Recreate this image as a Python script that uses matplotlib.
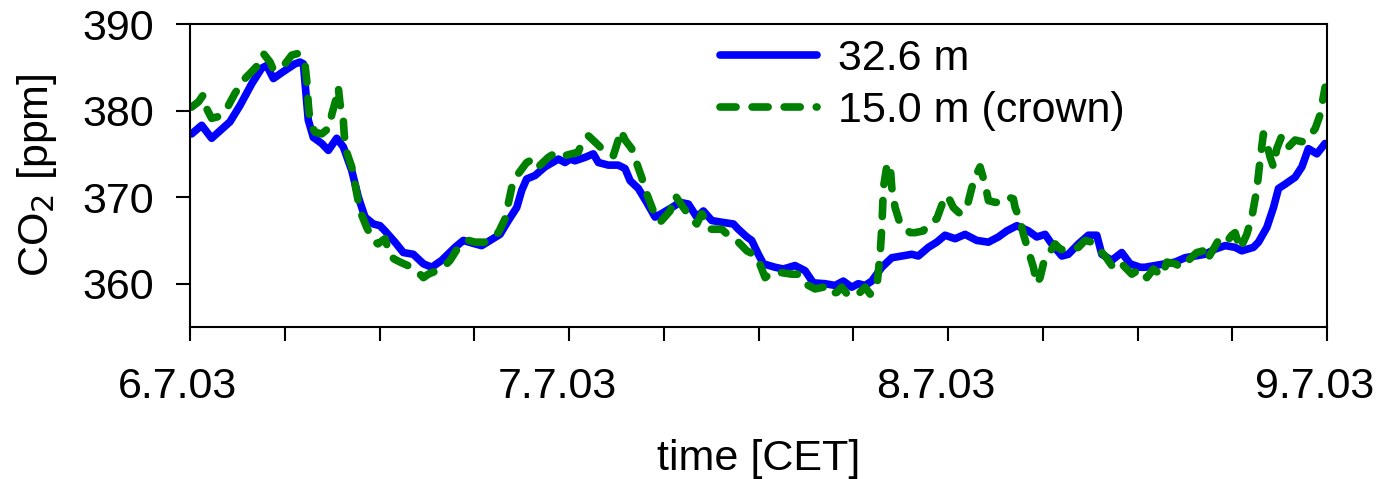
import matplotlib
matplotlib.use("Agg")
import matplotlib.pyplot as plt
from matplotlib.ticker import FixedLocator
from matplotlib.transforms import ScaledTranslation

plt.rcParams['font.family'] = ['Liberation Sans', 'DejaVu Sans']

# hours since 6.7.03 00:00 CET
t_top = [0.1, 0.74, 1.37, 2.53, 3.17, 3.91, 4.54, 4.86, 5.28, 5.91, 6.65, 6.97, 7.18, 7.49, 7.81,
         8.34, 8.76, 9.29, 9.71, 10.24, 10.66, 11.08, 11.61, 12.03, 12.35, 12.98, 13.51, 14.14,
         14.78, 15.31, 15.94, 16.78, 17.31, 18.05, 18.47, 19.0, 19.63, 20.16, 20.69, 21.01, 21.32,
         21.85, 22.48, 23.33, 23.75, 24.07, 24.38, 25.02, 25.54, 25.86, 26.49, 27.12, 27.55, 27.87,
         28.39, 28.92, 29.45, 29.87, 30.51, 31.03, 31.56, 32.09, 32.51, 33.04, 33.67, 34.41, 34.72,
         35.26, 35.57, 35.99, 36.31, 37.05, 37.57, 38.31, 38.95, 39.47, 40.22, 40.85, 41.37, 41.9,
         42.32, 42.75, 43.17, 43.81, 44.44, 45.07, 45.71, 46.12, 46.76, 47.29, 47.81, 48.45, 49.08,
         49.82, 50.56, 51.19, 51.72, 52.36, 53.09, 53.62, 54.15, 54.57, 55.21, 55.62, 56.26, 56.89,
         57.42, 57.74, 58.37, 59.0, 59.53, 60.16, 60.48, 61.11, 61.75, 62.38, 63.01, 63.65, 64.28,
         64.92, 65.55, 66.18, 66.6, 67.34, 67.66, 68.19, 68.61, 68.93, 69.35, 69.98, 70.41, 70.82,
         71.36, 71.88]
co2_top = [377.3, 378.3, 376.8, 378.7, 380.6, 383.1, 384.9, 385.2, 383.7, 384.5, 385.4, 385.6, 385.4,
           378.9, 376.9, 376.2, 375.4, 376.8, 375.8, 373.1, 370.0, 367.7, 366.9, 366.7, 366.1, 364.8,
           363.6, 363.4, 362.3, 361.9, 362.7, 364.2, 365.0, 364.6, 364.4, 365.0, 365.7, 367.3, 368.8,
           370.8, 372.1, 372.5, 373.5, 374.4, 374.0, 374.4, 374.2, 374.6, 375.0, 374.0, 373.7, 373.7,
           373.3, 371.9, 371.0, 369.4, 367.7, 368.1, 368.8, 369.4, 369.2, 367.7, 368.4, 367.3, 367.1,
           366.9, 366.3, 365.4, 365.0, 363.4, 362.3, 361.9, 361.7, 362.1, 361.5, 360.1, 360.0, 359.8,
           360.3, 359.6, 360.0, 359.8, 360.3, 361.9, 363.0, 363.2, 363.4, 363.2, 364.2, 364.8, 365.6,
           365.2, 365.7, 365.0, 364.8, 365.4, 366.1, 366.7, 366.1, 365.4, 365.7, 364.6, 363.2, 363.4,
           364.6, 365.6, 365.6, 363.4, 362.7, 363.6, 362.3, 361.9, 361.9, 362.1, 362.3, 362.5, 363.0,
           363.2, 363.4, 364.0, 364.4, 364.2, 363.8, 364.2, 364.8, 366.5, 368.8, 371.0, 371.5, 372.3,
           373.5, 375.6, 375.0, 376.2]

t_crown = [0.1, 0.53, 0.84, 1.06, 1.37, 1.79, 2.32, 2.85, 3.48, 3.91, 4.22, 4.64, 5.07, 5.28, 6.02,
           6.44, 6.86, 7.28, 7.39, 7.49, 7.6, 7.92, 8.34, 8.87, 8.97, 9.29, 9.39, 9.5, 9.71, 9.77,
           9.92, 10.24, 10.45, 10.77, 11.19, 11.61, 11.9, 12.35, 12.67, 12.98, 13.3, 14.04, 14.46,
           14.78, 15.09, 15.62, 16.15, 16.47, 16.99, 17.63, 18.05, 18.68, 19.11, 19.53, 19.95, 20.37,
           20.79, 21.32, 21.74, 22.06, 22.69, 23.22, 23.75, 24.59, 24.8, 25.22, 25.86, 26.28, 26.81,
           27.12, 27.29, 27.55, 27.97, 28.29, 28.6, 28.92, 29.34, 29.77, 30.4, 30.72, 31.24, 31.67,
           32.09, 32.41, 32.93, 33.67, 34.09, 34.62, 35.26, 35.89, 36.42, 36.84, 37.37, 38.11, 38.53,
           38.95, 39.58, 40.11, 40.42, 40.96, 41.27, 41.7, 42.32, 42.75, 43.07, 43.49, 43.7, 43.81,
           43.91, 44.12, 44.33, 44.44, 44.65, 44.97, 45.6, 45.91, 46.44, 46.76, 47.29, 47.71, 47.92,
           48.13, 48.34, 48.76, 49.19, 49.51, 49.82, 50.03, 50.35, 50.56, 50.98, 51.3, 51.82, 52.14,
           52.25, 52.57, 52.78, 53.09, 53.41, 53.62, 53.83, 54.04, 54.36, 54.78, 55.1, 55.52, 55.84,
           56.26, 56.68, 57.11, 57.63, 57.95, 58.37, 58.79, 59.21, 59.64, 60.16, 60.59, 61.01, 61.54,
           61.86, 62.38, 62.8, 63.22, 63.75, 64.17, 64.39, 64.81, 65.12, 65.55, 65.97, 66.18, 66.5,
           66.92, 67.24, 67.55, 67.76, 67.97, 68.19, 68.4, 68.61, 68.82, 69.14, 69.56, 69.98, 70.41,
           70.82, 71.25, 71.56, 71.77, 71.88]
co2_crown = [380.4, 381.0, 381.8, 380.2, 379.1, 379.3, 380.2, 382.0, 383.7, 384.5, 385.1, 386.6, 385.6,
             384.7, 385.4, 386.4, 386.6, 385.4, 383.5, 380.8, 378.5, 377.5, 377.3, 378.1, 379.5, 381.6,
             382.7, 380.8, 378.9, 377.1, 375.2, 373.5, 371.5, 368.4, 366.5, 365.0, 364.6, 365.2, 363.2,
             362.8, 362.5, 361.9, 361.3, 360.7, 361.1, 361.5, 362.1, 362.7, 364.2, 365.0, 364.8, 364.8,
             365.4, 365.9, 367.5, 371.1, 372.7, 374.0, 374.4, 373.5, 374.6, 375.2, 374.8, 375.2, 376.2,
             377.1, 376.0, 375.2, 374.8, 376.6, 377.7, 376.6, 375.6, 373.9, 372.3, 370.4, 368.4, 367.1,
             368.4, 370.2, 368.8, 367.7, 366.9, 368.1, 366.3, 366.3, 365.6, 365.0, 363.8, 363.2, 360.7,
             361.3, 361.3, 361.1, 361.1, 360.0, 359.4, 359.6, 358.8, 359.0, 359.6, 358.6, 358.8, 359.6,
             358.8, 359.6, 363.4, 366.5, 371.1, 373.5, 373.9, 371.1, 368.8, 366.9, 365.9, 365.9, 366.1,
             366.9, 367.5, 369.6, 370.2, 369.6, 368.8, 368.1, 368.8, 371.1, 372.7, 373.5, 371.5, 369.6,
             369.4, 369.4, 370.0, 369.8, 368.8, 367.3, 365.7, 363.8, 361.9, 360.0, 360.7, 362.3, 363.4,
             364.6, 364.0, 363.8, 364.0, 364.2, 365.0, 364.8, 363.8, 363.2, 362.1, 362.7, 361.9, 361.1,
             361.7, 360.7, 361.7, 360.9, 362.5, 362.3, 361.9, 362.7, 363.6, 363.8, 362.7, 364.0, 365.0,
             364.6, 365.6, 365.9, 364.0, 365.7, 367.7, 370.8, 374.2, 377.3, 376.2, 374.6, 373.5, 375.6,
             377.1, 375.8, 376.6, 376.4, 376.9, 377.9, 379.5, 381.6, 382.7]

series_labels = ['32.6 m', '15.0 m (crown)']
day_ticks = [0, 24, 48, 72]
day_labels = ['6.7.03', '7.7.03', '8.7.03', '9.7.03']
minor_ticks = [6, 12, 18, 30, 36, 42, 54, 60, 66]
y_ticks = [360, 370, 380, 390]

FS = 31

fig = plt.figure(figsize=(13.77, 4.79), dpi=100)
ax = fig.add_axes([190/1377, 1-327/479, 1137/1377, 303/479])

ax.plot(t_top, co2_top, color='#0000FF', lw=5.5, solid_capstyle='round',
        solid_joinstyle='round', label=series_labels[0])
ax.plot(t_crown, co2_crown, color='#008000', lw=5.5, linestyle=(0, (2.1, 2.1)),
        dash_capstyle='round', dash_joinstyle='round', label=series_labels[1])

ax.set_xlim(0, 72)
ax.set_ylim(355, 390)
ax.set_xticks(day_ticks)
ax.set_xticklabels(day_labels)
ax.xaxis.set_minor_locator(FixedLocator(minor_ticks))
ax.set_yticks(y_ticks)

ax.tick_params(axis='x', which='both', direction='out', length=10, width=1.5,
               labelsize=FS, pad=19)
ax.tick_params(axis='y', which='major', direction='out', length=10, width=1.5,
               labelsize=FS, pad=16)
for s in ax.spines.values():
    s.set_linewidth(1.5)

shift = ScaledTranslation(-12/100, 0, fig.dpi_scale_trans)
for lab in ax.get_xticklabels():
    lab.set_transform(lab.get_transform() + shift)

ax.set_xlabel('time [CET]', fontsize=FS, labelpad=23)
ax.set_ylabel('CO$_2$ [ppm]', fontsize=FS, labelpad=17)

ax.legend(loc='upper left', bbox_to_anchor=(0.466, 0.95), frameon=False, fontsize=FS,
          borderpad=0, borderaxespad=0, handlelength=2.25, handletextpad=0.5,
          labelspacing=0.27)

fig.savefig('out.png', dpi=100)
